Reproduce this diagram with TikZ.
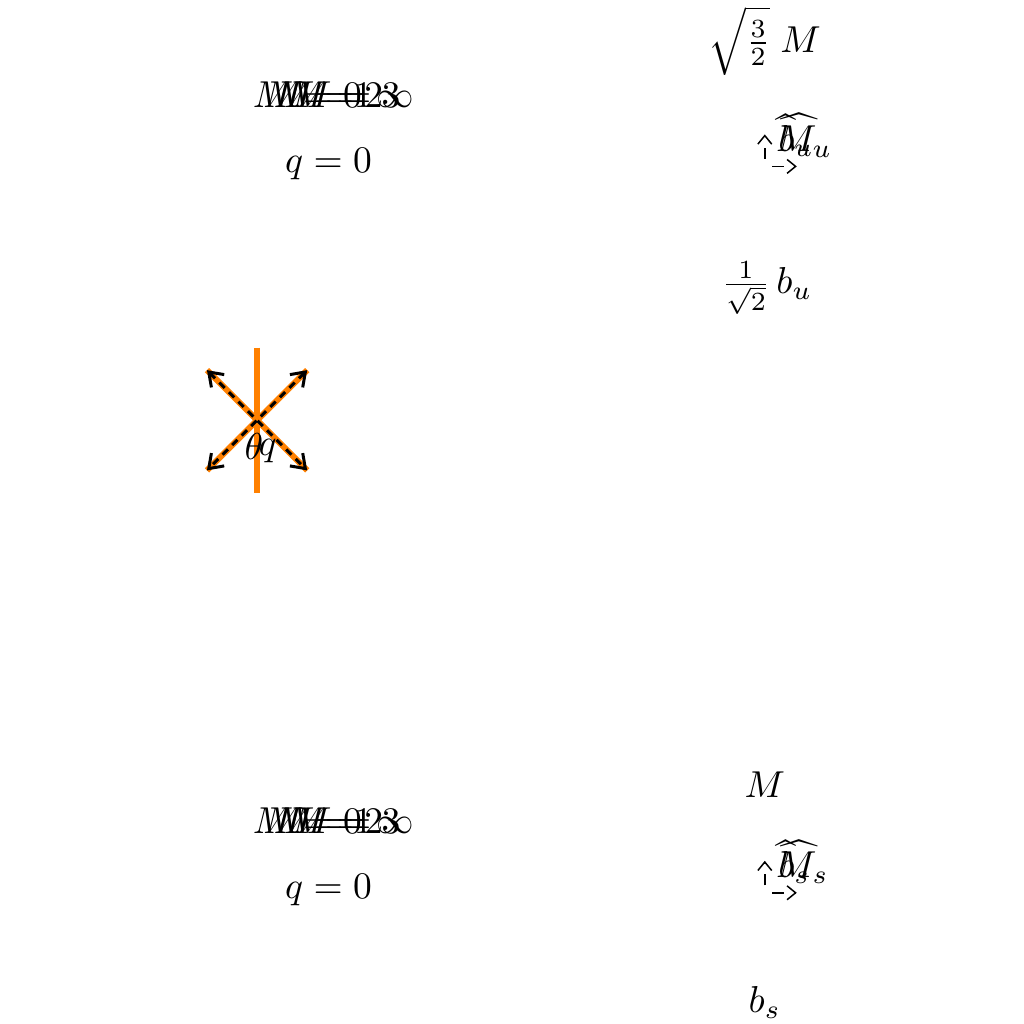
\documentclass[tikz,border=0pt]{standalone}
\usetikzlibrary{arrows.meta,positioning}
\tikzset{
  lbl/.style={inner sep=0pt},
  mode/.style={inner sep=0pt, anchor=west},
  beam/.style={line width=1.6pt, orange},
  wave/.style={{Straight Barb[length=1.2mm,width=1.7mm]}-{Straight Barb[length=1.2mm,width=1.7mm]}, thick, dash pattern=on 2pt off 1.6pt, black},
  axis/.style={-{Straight Barb[length=0.8mm,width=1.3mm]}, thin, dash pattern=on 3pt off 3pt, dash phase=4pt}
}
\begin{document}
\begin{tikzpicture}
  \useasboundingbox (0,0) rectangle (9.6,9.6);
  % upper block
  \foreach \k/\dx/\n in {0/0/a,1/0.1/b,2/0.2/c,3/0.36/d,\infty/0.31/e}
    \node[mode] (mu\n) at (2.3625+\dx,8.709) {$M=\k$};
  \node[lbl] (qu) at (3.08,8.06) {$q=0$};
  \node[lbl] (Mu) at (7.17,9.22) {$\sqrt{\frac{3}{2}}\;M$};
  \node[lbl, anchor=west] (hMu) at (7.27,8.33) {$\widehat{M}_u$};
  \node[lbl, anchor=west] (hbu) at (7.29,8.33) {$\widehat{b}_u$};
  \coordinate (ou) at (7.17,8.04);
  \coordinate (ou1) at (7.17,8.34);
  \coordinate (ou2) at (7.47,8.04);
  \draw[axis] (ou)--(ou1); \draw[axis] (ou)--(ou2);
  \node[lbl] (bu) at (7.19,6.90) {$\frac{1}{\sqrt{2}}\,b_u$};
  % crossing
  \coordinate (c) at (2.41,5.66);
  \coordinate (t) at (2.41,6.34); \coordinate (b) at (2.41,4.98);
  \coordinate (nw) at (1.94,6.13); \coordinate (se) at (2.88,5.19);
  \coordinate (ne) at (2.88,6.13); \coordinate (sw) at (1.94,5.19);
  \draw[beam] (t)--(b);
  \draw[beam] (nw)--(se); \draw[beam] (ne)--(sw);
  \draw[wave] (nw)--(se); \draw[wave] (ne)--(sw);
  \node[lbl] (th) at (2.38,5.41) {$\theta$};
  \node[lbl] (qc) at (2.51,5.37) {$q$};
  % lower block
  \foreach \k/\dx/\n in {0/0/a,1/0.1/b,2/0.2/c,3/0.36/d,\infty/0.31/e}
    \node[mode] (ms\n) at (2.3625+\dx,1.91) {$M=\k$};
  \node[lbl] (qs) at (3.08,1.26) {$q=0$};
  \node[lbl] (Ms) at (7.17,2.24) {$M$};
  \node[lbl, anchor=west] (hMs) at (7.27,1.52) {$\widehat{M}_s$};
  \node[lbl, anchor=west] (hbs) at (7.29,1.52) {$\widehat{b}_s$};
  \coordinate (os) at (7.17,1.23);
  \coordinate (os1) at (7.17,1.53);
  \coordinate (os2) at (7.47,1.23);
  \draw[axis] (os)--(os1); \draw[axis] (os)--(os2);
  \node[lbl] (bs) at (7.17,0.20) {$b_s$};
\end{tikzpicture}
\end{document}
